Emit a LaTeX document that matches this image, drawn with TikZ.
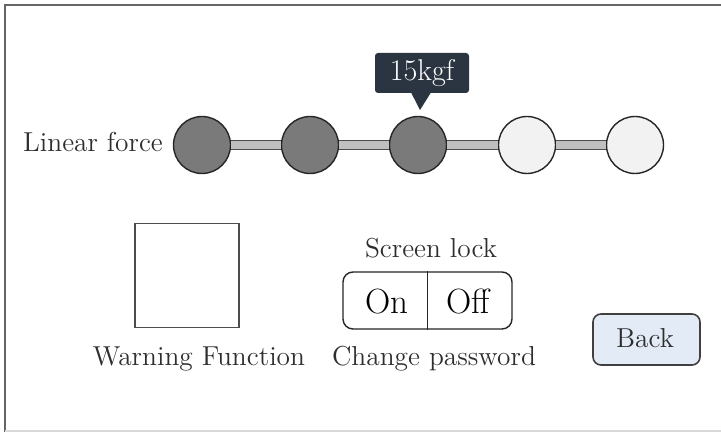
\documentclass[tikz,border=0pt]{standalone}
\usetikzlibrary{positioning}
\usetikzlibrary{calc}

\definecolor{knobdark}{HTML}{7A7A7A}
\definecolor{knoblight}{HTML}{F2F2F2}
\definecolor{tipfill}{HTML}{2B3541}
\definecolor{backfill}{HTML}{E3EBF7}
\definecolor{labelgray}{HTML}{2E2E2E}

\tikzset{
    knob/.style = {circle, draw=black!85, line width=0.7pt, minimum size=28.5pt, inner sep=0pt},
    bar/.style = {draw=black!70, line width=0.6pt, double=black!25, double distance=3.6pt},
    lbl/.style = {text=labelgray, font=\fontsize{13.7}{16}\selectfont, inner sep=0pt, anchor=base},
    panel/.style = {draw=black!60, line width=1pt}
}

\begin{document}
\begin{tikzpicture}[x=0.5pt, y=-0.5pt]

        % picture size
        \clip (0,0) rectangle (721,432);
        \fill[white] (0,0) rectangle (721,432);

        % screen frame
        \draw[panel] (740,5) -- (5,5) -- (5,440);
        \draw[black!15, line width=0.8pt] (5,431) -- (740,431);

        % force slider
        \node[knob, fill=knobdark] (k1) at (202,145) {};
        \node[knob, fill=knobdark] (k2) at (310,145) {};
        \node[knob, fill=knobdark] (k3) at (418,145) {};
        \node[knob, fill=knoblight] (k4) at (527,145) {};
        \node[knob, fill=knoblight] (k5) at (635,145) {};
        \draw[bar] (k1) -- (k2);
        \draw[bar] (k2) -- (k3);
        \draw[bar] (k3) -- (k4);
        \draw[bar] (k4) -- (k5);
        \node[lbl] (force_label) at (93,152) {Linear force};

        % value tip above the slider
        \node[fill=tipfill, rounded corners=1.5pt, minimum width=47pt, minimum height=20pt, inner sep=0pt,
              text=white, font=\fontsize{15}{17}\selectfont] (tip_box) at (422,73) {15kgf};
        \coordinate (tip_point) at (420,110);
        \fill[tipfill] ($(tip_box.south)+(-11,-1)$) -- (tip_point) -- ($(tip_box.south)+(9,-1)$) -- cycle;

        % warning function
        \node[draw=black!70, line width=0.8pt, minimum size=52pt, inner sep=0pt] (warn_box) at (187,275.5) {};
        \node[lbl] (warn_label) at (199,365) {Warning Function};

        % screen lock switch
        \node[lbl] (lock_label) at (431,257) {Screen lock};
        \node[draw=black!85, line width=0.7pt, rounded corners=5pt, minimum width=84.5pt, minimum height=28.5pt,
              inner sep=0pt] (lock_switch) at (427.5,300.5) {};
        \draw[black!85, line width=0.7pt] (lock_switch.north) -- (lock_switch.south);
        \node[lbl, text=black, font=\fontsize{17.5}{20}\selectfont] (lock_on) at (387,313) {On};
        \node[lbl, text=black, font=\fontsize{17.5}{20}\selectfont] (lock_off) at (468,313) {Off};
        \node[lbl] (pass_label) at (434,365) {Change password};

        % back button
        \node[draw=black!75, line width=0.8pt, fill=backfill, rounded corners=4pt, minimum width=53.5pt,
              minimum height=25.5pt, inner sep=0pt] (back_btn) at (646.5,339.5) {};
        \node[lbl] (back_label) at (645,347) {Back};

\end{tikzpicture}
\end{document}
